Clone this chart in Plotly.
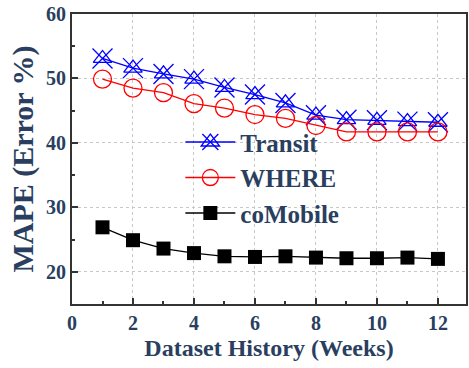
import plotly.graph_objects as go

weeks = [1, 2, 3, 4, 5, 6, 7, 8, 9, 10, 11, 12]
transit = [53.1, 51.6, 50.7, 49.9, 48.6, 47.5, 46.2, 44.3, 43.6, 43.5, 43.3, 43.2]
where = [49.9, 48.5, 47.8, 46.1, 45.4, 44.4, 43.8, 42.7, 41.7, 41.7, 41.7, 41.7]
comobile = [26.9, 24.9, 23.6, 22.9, 22.4, 22.3, 22.4, 22.2, 22.1, 22.1, 22.2, 22.0]

x_ticks = [0, 2, 4, 6, 8, 10, 12]
y_ticks = [20, 30, 40, 50, 60]

FONT = "Liberation Serif"

fig = go.Figure()
fig.add_trace(go.Scatter(
    x=weeks, y=transit, name="Transit", mode="lines+markers",
    line=dict(color="#0000ff", width=1.3),
    marker=dict(symbol="triangle-up-open", size=16, color="#0000ff", line=dict(width=1.3)),
    legend="legend"))
fig.add_trace(go.Scatter(
    x=weeks, y=transit, name=" ", mode="markers",
    marker=dict(symbol="x-thin-open", size=20, color="#0000ff", line=dict(width=1.3, color="#0000ff")),
    showlegend=True, legend="legend2"))
fig.add_trace(go.Scatter(
    x=weeks, y=where, name="WHERE", mode="lines+markers",
    line=dict(color="#ff0000", width=1.3),
    marker=dict(symbol="circle-open", size=18, color="#ff0000", line=dict(width=1.3)),
    legend="legend"))
fig.add_trace(go.Scatter(
    x=weeks, y=comobile, name="coMobile", mode="lines+markers",
    line=dict(color="#000000", width=1.3),
    marker=dict(symbol="square", size=14, color="#000000"),
    legend="legend"))

axis_common = dict(
    showline=True, linecolor="#333333", linewidth=2, mirror=True,
    ticks="inside", ticklen=6, tickwidth=1.5, tickcolor="#333333",
    showgrid=True, gridcolor="#c8c8c8", griddash="dot", gridwidth=1,
    zeroline=False,
    tickfont=dict(family=FONT, size=20, weight="bold"),
)

fig.update_xaxes(
    range=[0, 12.92], tickvals=x_ticks, ticktext=[str(v) for v in x_ticks],
    minor=dict(tickvals=[1, 3, 5, 7, 9, 11], ticks="inside", ticklen=3, tickcolor="#333333", showgrid=False),
    title=dict(text="Dataset History (Weeks)", font=dict(family=FONT, size=24, weight="bold"), standoff=6),
    **axis_common)
fig.update_yaxes(
    range=[15, 60], tickvals=y_ticks, ticktext=[str(v) for v in y_ticks],
    minor=dict(tickvals=[15, 25, 35, 45, 55], ticks="inside", ticklen=3, tickcolor="#333333", showgrid=False),
    title=dict(text="MAPE (Error %)", font=dict(family=FONT, size=30, weight="bold"), standoff=4),
    **axis_common)

legend_common = dict(
    bgcolor="rgba(0,0,0,0)", borderwidth=0,
    font=dict(family=FONT, size=25, weight="bold"),
    itemwidth=50, tracegroupgap=0,
    xanchor="left", yanchor="top", x=0.275, y=0.637,
)
fig.update_layout(
    width=469, height=368,
    margin=dict(l=72, r=1, t=14, b=64),
    paper_bgcolor="white", plot_bgcolor="white",
    showlegend=True,
    legend=legend_common,
    legend2=legend_common,
)

fig.write_html("out.html")
